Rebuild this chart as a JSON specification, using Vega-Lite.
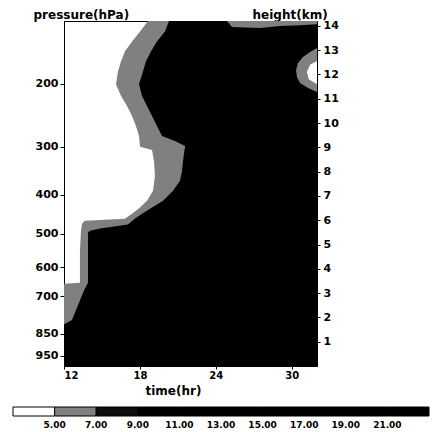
{
  "$schema": "https://vega.github.io/schema/vega-lite/v6.json",
  "width": 253,
  "height": 345,
  "autosize": {"type": "none"},
  "padding": {"left": 64, "top": 21, "right": 119, "bottom": 66},
  "background": "white",
  "layer": [
    {
      "encoding": {
        "y": {
          "field": "z", "type": "quantitative", "stack": null,
          "scale": {"domain": [0, 14.2], "nice": false, "zero": false},
          "axis": {
            "orient": "right", "values": [1,2,3,4,5,6,7,8,9,10,11,12,13,14], "format": "d",
            "title": "height(km)", "titleAngle": 0, "titleAlign": "left", "titleBaseline": "alphabetic",
            "titleX": -65, "titleY": -3, "titleFontSize": 12,
            "tickSize": 3, "labelPadding": 3, "labelFontSize": 11
          }
        },
        "x": {
          "field": "t", "type": "quantitative", "stack": null,
          "scale": {"domain": [12, 32], "nice": false, "zero": false},
          "axis": {
            "values": [12, 18, 24, 30], "format": "d",
            "title": "time(hr)", "titleAlign": "left", "titleBaseline": "alphabetic",
            "titleX": 81, "titleY": 28, "titleFontSize": 12,
            "tickSize": 3, "labelPadding": 1, "labelFontSize": 10
          }
        },
        "fill": {
          "field": "level", "type": "quantitative",
          "scale": {
            "type": "threshold",
            "domain": [5, 7, 9, 11, 13, 15, 17, 19, 21],
            "range": ["#ffffff", "#808080", "#0d0d0d", "#000000", "#000000", "#000000", "#000000", "#000000", "#000000", "#000000"]
          },
          "legend": {
            "type": "gradient", "orient": "none", "legendX": -51, "legendY": 386,
            "direction": "horizontal", "gradientLength": 416, "gradientThickness": 9,
            "gradientStrokeColor": "black", "gradientStrokeWidth": 1,
            "title": null, "format": ".2f", "labelFontSize": 9, "labelOffset": 5
          }
        }
      },
      "layer": [
        {
          "data": {"values": [
            {"z": 14.2, "t": 18.64, "level": 6},
            {"z": 13.77, "t": 18.01, "level": 6},
            {"z": 13.36, "t": 17.38, "level": 6},
            {"z": 12.95, "t": 16.82, "level": 6},
            {"z": 12.54, "t": 16.51, "level": 6},
            {"z": 12.13, "t": 16.27, "level": 6},
            {"z": 11.6, "t": 16.11, "level": 6},
            {"z": 11.11, "t": 16.51, "level": 6},
            {"z": 10.7, "t": 16.98, "level": 6},
            {"z": 10.29, "t": 17.38, "level": 6},
            {"z": 9.88, "t": 17.69, "level": 6},
            {"z": 9.47, "t": 17.93, "level": 6},
            {"z": 9.02, "t": 18.01, "level": 6},
            {"z": 8.89, "t": 18.96, "level": 6},
            {"z": 8.44, "t": 19.11, "level": 6},
            {"z": 7.83, "t": 19.19, "level": 6},
            {"z": 7.21, "t": 19.04, "level": 6},
            {"z": 6.8, "t": 18.56, "level": 6},
            {"z": 6.52, "t": 18.01, "level": 6},
            {"z": 6.27, "t": 17.38, "level": 6},
            {"z": 6.06, "t": 16.8, "level": 6},
            {"z": 6.01, "t": 14.85, "level": 6},
            {"z": 5.98, "t": 13.66, "level": 6},
            {"z": 5.86, "t": 13.42, "level": 6},
            {"z": 5.56, "t": 13.34, "level": 6},
            {"z": 4.73, "t": 13.26, "level": 6},
            {"z": 3.43, "t": 13.26, "level": 6},
            {"z": 3.39, "t": 12.0, "level": 6},
            {"z": 0, "t": 12.0, "level": 6}
          ]},
          "mark": {"type": "area", "orient": "horizontal"},
          "encoding": {"x2": {"datum": 32}}
        },
        {
          "data": {"values": [
            {"z": 14.2, "t": 20.3, "level": 10},
            {"z": 13.77, "t": 19.98, "level": 10},
            {"z": 13.36, "t": 19.35, "level": 10},
            {"z": 12.95, "t": 18.88, "level": 10},
            {"z": 12.54, "t": 18.48, "level": 10},
            {"z": 12.13, "t": 18.25, "level": 10},
            {"z": 11.6, "t": 17.93, "level": 10},
            {"z": 11.11, "t": 18.17, "level": 10},
            {"z": 10.7, "t": 18.56, "level": 10},
            {"z": 10.29, "t": 18.96, "level": 10},
            {"z": 9.88, "t": 19.35, "level": 10},
            {"z": 9.47, "t": 19.75, "level": 10},
            {"z": 9.26, "t": 20.77, "level": 10},
            {"z": 9.06, "t": 21.57, "level": 10},
            {"z": 8.44, "t": 21.41, "level": 10},
            {"z": 8.03, "t": 21.33, "level": 10},
            {"z": 7.62, "t": 21.17, "level": 10},
            {"z": 7.21, "t": 20.62, "level": 10},
            {"z": 6.8, "t": 19.83, "level": 10},
            {"z": 6.52, "t": 18.96, "level": 10},
            {"z": 6.27, "t": 18.17, "level": 10},
            {"z": 6.07, "t": 17.61, "level": 10},
            {"z": 5.82, "t": 17.06, "level": 10},
            {"z": 5.66, "t": 14.85, "level": 10},
            {"z": 5.57, "t": 14.06, "level": 10},
            {"z": 5.49, "t": 13.9, "level": 10},
            {"z": 3.44, "t": 13.9, "level": 10},
            {"z": 3.11, "t": 13.58, "level": 10},
            {"z": 2.7, "t": 13.26, "level": 10},
            {"z": 2.3, "t": 12.95, "level": 10},
            {"z": 1.89, "t": 12.63, "level": 10},
            {"z": 1.72, "t": 12.0, "level": 10},
            {"z": 0, "t": 12.0, "level": 10}
          ]},
          "mark": {"type": "area", "orient": "horizontal"},
          "encoding": {"x2": {"datum": 32}}
        },
        {
          "data": {"values": [
            {"z": 13.09, "t": 32.0, "level": 6},
            {"z": 12.92, "t": 31.45, "level": 6},
            {"z": 12.72, "t": 30.89, "level": 6},
            {"z": 12.47, "t": 30.5, "level": 6},
            {"z": 12.18, "t": 30.34, "level": 6},
            {"z": 11.89, "t": 30.42, "level": 6},
            {"z": 11.65, "t": 30.66, "level": 6},
            {"z": 11.44, "t": 31.29, "level": 6},
            {"z": 11.28, "t": 32.0, "level": 6}
          ]},
          "mark": {"type": "area", "orient": "horizontal"},
          "encoding": {"x2": {"datum": 32}}
        },
        {
          "data": {"values": [
            {"z": 12.55, "t": 32.0, "level": 4},
            {"z": 12.4, "t": 31.45, "level": 4},
            {"z": 12.1, "t": 31.2, "level": 4},
            {"z": 11.8, "t": 31.35, "level": 4},
            {"z": 11.6, "t": 32.0, "level": 4}
          ]},
          "mark": {"type": "area", "orient": "horizontal"},
          "encoding": {"x2": {"datum": 32}}
        },
        {
          "data": {"values": [
            {"t": 24.89, "z": 14.2, "level": 6},
            {"t": 25.28, "z": 13.95, "level": 6},
            {"t": 27.49, "z": 13.91, "level": 6},
            {"t": 29.08, "z": 13.99, "level": 6},
            {"t": 30.66, "z": 14.03, "level": 6},
            {"t": 32.0, "z": 14.07, "level": 6}
          ]},
          "mark": {"type": "area", "orient": "vertical"},
          "encoding": {"y2": {"datum": 14.2}}
        }
      ]
    },
    {
      "data": {"values": [
        {"p": 200}, {"p": 300}, {"p": 400}, {"p": 500},
        {"p": 600}, {"p": 700}, {"p": 850}, {"p": 950}
      ]},
      "mark": {"type": "point", "opacity": 0},
      "encoding": {
        "y": {
          "field": "p", "type": "quantitative",
          "scale": {"type": "pow", "exponent": 0.1903, "domain": [998, 129.6], "nice": false, "zero": false},
          "axis": {
            "orient": "left", "values": [200, 300, 400, 500, 600, 700, 850, 950], "format": "d",
            "title": "pressure(hPa)", "titleAngle": 0, "titleAlign": "left", "titleBaseline": "alphabetic",
            "titleX": -31, "titleY": -3, "titleFontSize": 12,
            "tickSize": 4, "labelPadding": 2, "labelFontSize": 11
          }
        }
      }
    }
  ],
  "resolve": {"scale": {"y": "independent"}},
  "config": {
    "view": {"stroke": "black", "strokeWidth": 1},
    "axis": {
      "grid": false,
      "labelFont": "DejaVu Sans", "labelFontWeight": "bold", "labelColor": "black",
      "titleFont": "DejaVu Sans", "titleFontWeight": "bold", "titleColor": "black",
      "domainColor": "black", "tickColor": "black"
    },
    "legend": {
      "labelFont": "DejaVu Sans", "labelFontWeight": "bold", "labelColor": "black"
    }
  }
}
